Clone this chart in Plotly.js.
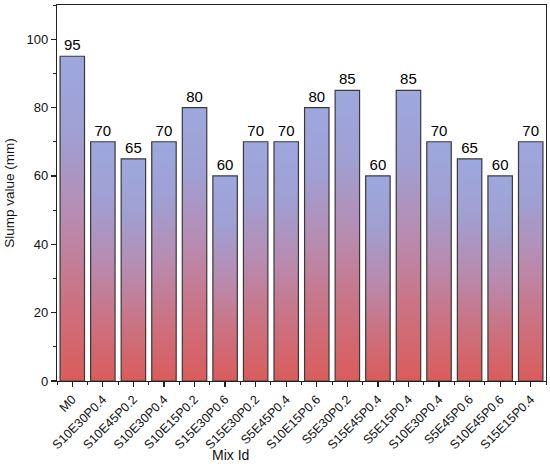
<!DOCTYPE html>
<html><head><meta charset="utf-8">
<script src="https://cdn.plot.ly/plotly-3.0.1.min.js"></script>
<style>html,body{margin:0;padding:0;background:#fff}#chart{width:550px;height:466px}</style>
</head><body><div id="chart"></div>
<script>
const mixIds = ["M0","S10E30P0.4","S10E45P0.2","S10E30P0.4","S10E15P0.2","S15E30P0.6","S15E30P0.2","S5E45P0.4","S10E15P0.6","S5E30P0.2","S15E45P0.4","S5E15P0.4","S10E30P0.4","S5E45P0.6","S10E45P0.6","S15E15P0.4"];
const slump = [95,70,65,70,80,60,70,70,80,85,60,85,70,65,60,70];
const positions = mixIds.map((_, i) => i);

const trace = {
  type: 'bar',
  x: positions,
  y: slump,
  text: slump.map(String),
  textposition: 'outside',
  cliponaxis: false,
  textfont: {family: 'Liberation Sans, Arial, sans-serif', size: 15, color: '#000'},
  marker: {color: '#9DA7DD', line: {color: '#3a3a3a', width: 1.2}},
  hoverinfo: 'none'
};

const font = {family: 'Liberation Sans, Arial, sans-serif', color: '#000'};
const layout = {
  width: 550, height: 466,
  margin: {l: 57, r: 4, t: 5, b: 85},
  paper_bgcolor: '#fff', plot_bgcolor: '#fff',
  font: font,
  bargap: 0.2,
  showlegend: false,
  xaxis: {
    range: [-0.5, 15.5],
    tickmode: 'array', tickvals: positions, ticktext: mixIds,
    tickangle: -45,
    tickfont: {family: font.family, size: 12.5, color: '#111'},
    ticks: 'outside', ticklen: 5, tickwidth: 1.2, tickcolor: '#222',
    minor: {tickmode: 'linear', tick0: 0.5, dtick: 1, ticks: 'outside', ticklen: 3, tickwidth: 1, tickcolor: '#222'},
    showline: true, linecolor: '#222', linewidth: 1.2, mirror: true,
    showgrid: false, zeroline: false,
    automargin: false
  },
  yaxis: {
    range: [0, 110],
    tickmode: 'linear', tick0: 0, dtick: 20,
    tickfont: {family: font.family, size: 13, color: '#111'},
    ticks: 'outside', ticklen: 5, tickwidth: 1.2, tickcolor: '#222',
    minor: {tickmode: 'linear', tick0: 10, dtick: 20, ticks: 'outside', ticklen: 3, tickwidth: 1, tickcolor: '#222'},
    showline: true, linecolor: '#222', linewidth: 1.2, mirror: true,
    showgrid: false, zeroline: false,
    automargin: false,
    title: {text: 'Slump value (mm)', font: {family: font.family, size: 13.5, color: '#111'}, standoff: 8}
  },
  annotations: [{
    text: 'Mix Id', xref: 'paper', yref: 'paper', x: 0.354, y: -0.197,
    xanchor: 'center', yanchor: 'middle', showarrow: false,
    font: {family: font.family, size: 14, color: '#111'}
  }]
};

function applyGradient(gd) {
  const svg = gd.querySelector('svg.main-svg');
  if (!svg) return;
  const ns = 'http://www.w3.org/2000/svg';
  let defs = svg.querySelector('defs');
  if (!defs) { defs = document.createElementNS(ns, 'defs'); svg.insertBefore(defs, svg.firstChild); }
  if (!svg.querySelector('#barGrad')) {
    const g = document.createElementNS(ns, 'linearGradient');
    g.setAttribute('id', 'barGrad');
    g.setAttribute('x1', '0'); g.setAttribute('y1', '0');
    g.setAttribute('x2', '0'); g.setAttribute('y2', '1');
    [[0,'#9DA8DE'],[0.25,'#A09FD2'],[0.5,'#B88BB0'],[0.75,'#CB7282'],[1,'#DA5C5B']].forEach(([o,c]) => {
      const s = document.createElementNS(ns, 'stop');
      s.setAttribute('offset', o); s.setAttribute('stop-color', c);
      g.appendChild(s);
    });
    defs.appendChild(g);
  }
  gd.querySelectorAll('.barlayer .point path').forEach(p => {
    p.style.fill = 'url(#barGrad)';
  });
}

const gd = document.getElementById('chart');
Plotly.newPlot(gd, [trace], layout, {displayModeBar: false, staticPlot: true}).then(() => applyGradient(gd));
</script></body></html>
